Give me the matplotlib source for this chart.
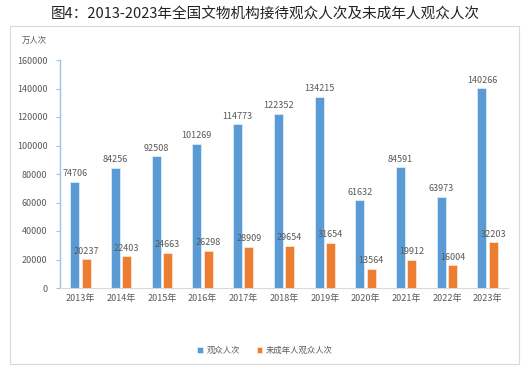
import matplotlib
matplotlib.use("Agg")
import matplotlib.pyplot as plt
from matplotlib.patches import Rectangle
import numpy as np

plt.rcParams['font.family'] = ['Noto Sans CJK SC', 'DejaVu Sans']

years = ["2013年", "2014年", "2015年", "2016年", "2017年", "2018年", "2019年",
         "2020年", "2021年", "2022年", "2023年"]
visitors = [74706, 84256, 92508, 101269, 114773, 122352, 134215, 61632, 84591, 63973, 140266]
minors = [20237, 22403, 24663, 26298, 28909, 29654, 31654, 13564, 19912, 16004, 32203]
yticks = [0, 20000, 40000, 60000, 80000, 100000, 120000, 140000, 160000]

blue = "#5B9BD5"
orange = "#ED7D31"
txt = "#595959"

W, H = 530, 369
fig = plt.figure(figsize=(W / 100, H / 100), dpi=100)

# outer frame box
fig.patches.append(Rectangle((10 / W, 1 - 364 / H), (519 - 10) / W, (364 - 26) / H,
                             transform=fig.transFigure, fill=False,
                             edgecolor="#D9D9D9", linewidth=0.8))

fig.text(265 / W, 1 - 14 / H, "图4：2013-2023年全国文物机构接待观众人次及未成年人观众人次",
         ha="center", va="center", fontsize=10.5, color="#222222")
fig.text(22 / W, 1 - 40 / H, "万人次", ha="left", va="center", fontsize=6, color=txt)

ax = fig.add_axes([60 / W, 1 - 288 / H, (508 - 60) / W, (288 - 60) / H])
x = np.arange(len(years))
bw = 0.22
off = 0.14
ax.bar(x - off, visitors, width=bw, color=blue, edgecolor="#DDEBF7", linewidth=0.6, label="观众人次")
ax.bar(x + off, minors, width=bw, color=orange, edgecolor="#FCE4D6", linewidth=0.6, label="未成年人观众人次")

for i in range(len(years)):
    ax.text(x[i] - off, visitors[i] + 2500, str(visitors[i]), ha="center", va="bottom",
            fontsize=6.5, color=txt)
    ax.text(x[i] + off, minors[i] + 2500, str(minors[i]), ha="center", va="bottom",
            fontsize=6.5, color=txt)

ax.set_xlim(-0.5, len(years) - 0.5)
ax.set_ylim(0, 160000)
ax.set_yticks(yticks)
ax.set_yticklabels([str(v) for v in yticks], fontsize=6.5, color=txt)
ax.set_xticks(x)
ax.set_xticklabels(years, fontsize=6.5, color=txt)
ax.tick_params(axis="x", length=0, pad=4)
ax.tick_params(axis="y", length=3, color="#9DC3E6", width=0.8, pad=6)
for s in ["top", "right"]:
    ax.spines[s].set_visible(False)
ax.spines["left"].set_color("#9DC3E6")
ax.spines["left"].set_linewidth(1.0)
ax.spines["bottom"].set_color("#D9D9D9")
ax.spines["bottom"].set_linewidth(0.8)

fig.legend(loc="center", bbox_to_anchor=(265 / W, 1 - 350 / H), ncol=2, frameon=False,
           fontsize=6, handlelength=0.7, handleheight=0.7, handletextpad=0.4,
           columnspacing=2.0, labelcolor=txt)

fig.savefig("out.png", dpi=100)
